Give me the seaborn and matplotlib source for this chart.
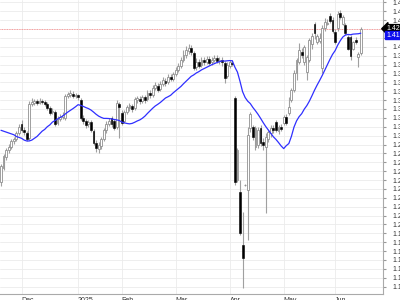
import numpy as np
import pandas as pd
import matplotlib
matplotlib.use("Agg")
import matplotlib.pyplot as plt
import matplotlib.transforms as mtransforms
import seaborn as sns

opens = [1.248,1.264,1.276,1.284,1.287,1.294,1.296,1.303,1.313,1.306,
 1.303,1.297,1.336,1.337,1.339,1.337,1.339,1.338,1.336,1.331,
 1.327,1.327,1.314,1.319,1.321,1.320,1.345,1.346,1.347,1.345,
 1.346,1.340,1.320,1.316,1.313,1.315,1.305,1.292,1.285,1.288,
 1.296,1.306,1.313,1.320,1.316,1.310,1.336,1.325,1.316,1.327,
 1.331,1.333,1.331,1.340,1.341,1.339,1.343,1.341,1.348,1.346,
 1.354,1.356,1.352,1.358,1.361,1.360,1.366,1.364,1.369,1.374,
 1.378,1.385,1.391,1.395,1.399,1.393,1.377,1.383,1.380,1.385,
 1.383,1.386,1.383,1.385,1.387,1.384,1.385,1.382,1.367,1.378,
 1.382,1.342,1.250,1.236,1.177,1.244,1.239,1.309,1.310,1.287,
 1.289,1.309,1.293,1.287,1.296,1.303,1.309,1.315,1.305,1.310,
 1.314,1.321,1.325,1.340,1.351,1.370,1.383,1.394,1.383,1.372,
 1.385,1.403,1.426,1.405,1.406,1.376,1.421,1.426,1.435,1.430,
 1.417,1.421,1.438,1.426,1.424,1.411,1.411,1.398,1.408,1.388,
 1.393]
closes = [1.266,1.277,1.284,1.287,1.294,1.296,1.303,1.310,1.306,1.304,
 1.296,1.336,1.338,1.339,1.337,1.339,1.338,1.336,1.331,1.325,
 1.328,1.313,1.319,1.321,1.323,1.345,1.347,1.348,1.345,1.346,
 1.343,1.320,1.316,1.312,1.315,1.306,1.292,1.286,1.289,1.296,
 1.306,1.313,1.316,1.313,1.309,1.337,1.332,1.314,1.327,1.332,
 1.334,1.330,1.341,1.342,1.339,1.343,1.340,1.348,1.346,1.354,
 1.357,1.351,1.358,1.363,1.359,1.366,1.364,1.369,1.374,1.378,
 1.385,1.391,1.396,1.399,1.394,1.376,1.383,1.378,1.385,1.383,
 1.386,1.382,1.385,1.387,1.384,1.385,1.383,1.365,1.380,1.383,
 1.381,1.248,1.284,1.190,1.162,1.244,1.301,1.324,1.298,1.309,
 1.306,1.292,1.289,1.298,1.304,1.309,1.306,1.306,1.310,1.307,
 1.321,1.314,1.332,1.351,1.370,1.385,1.396,1.391,1.400,1.389,
 1.408,1.412,1.415,1.412,1.410,1.421,1.428,1.427,1.429,1.418,
 1.405,1.437,1.433,1.434,1.415,1.398,1.390,1.405,1.405,1.392,
 1.420]
highs = [1.268,1.279,1.286,1.291,1.296,1.299,1.305,1.313,1.318,1.310,
 1.305,1.339,1.342,1.341,1.341,1.342,1.341,1.340,1.338,1.333,
 1.331,1.329,1.322,1.324,1.327,1.347,1.349,1.351,1.350,1.348,
 1.347,1.342,1.323,1.319,1.318,1.318,1.307,1.295,1.293,1.298,
 1.309,1.316,1.320,1.322,1.319,1.340,1.338,1.329,1.329,1.334,
 1.337,1.336,1.343,1.345,1.345,1.346,1.346,1.351,1.351,1.357,
 1.360,1.359,1.361,1.366,1.365,1.369,1.369,1.372,1.377,1.382,
 1.389,1.396,1.401,1.403,1.402,1.395,1.387,1.386,1.389,1.389,
 1.390,1.390,1.389,1.391,1.391,1.389,1.389,1.384,1.383,1.385,
 1.385,1.345,1.286,1.250,1.214,1.245,1.310,1.327,1.312,1.311,
 1.310,1.312,1.297,1.303,1.306,1.312,1.312,1.318,1.312,1.313,
 1.323,1.324,1.343,1.354,1.374,1.387,1.404,1.399,1.402,1.391,
 1.410,1.416,1.428,1.414,1.415,1.424,1.432,1.431,1.438,1.433,
 1.420,1.440,1.442,1.436,1.427,1.413,1.413,1.407,1.411,1.394,
 1.422]
lows = [1.243,1.261,1.273,1.280,1.285,1.291,1.294,1.301,1.304,1.301,
 1.294,1.295,1.333,1.334,1.334,1.336,1.336,1.333,1.329,1.323,
 1.324,1.311,1.312,1.316,1.319,1.318,1.342,1.343,1.342,1.342,
 1.340,1.318,1.313,1.309,1.310,1.304,1.289,1.282,1.280,1.285,
 1.294,1.303,1.311,1.310,1.306,1.307,1.297,1.312,1.314,1.324,
 1.328,1.327,1.329,1.337,1.336,1.337,1.337,1.339,1.342,1.343,
 1.351,1.349,1.350,1.356,1.356,1.358,1.361,1.361,1.367,1.372,
 1.376,1.383,1.387,1.392,1.391,1.374,1.374,1.376,1.377,1.380,
 1.381,1.380,1.380,1.383,1.382,1.381,1.378,1.359,1.365,1.376,
 1.378,1.244,1.248,1.188,1.128,1.243,1.182,1.304,1.295,1.284,
 1.286,1.288,1.284,1.213,1.293,1.299,1.303,1.304,1.302,1.305,
 1.312,1.312,1.323,1.338,1.349,1.363,1.381,1.387,1.380,1.363,
 1.383,1.398,1.409,1.403,1.404,1.370,1.418,1.424,1.427,1.416,
 1.403,1.418,1.431,1.424,1.413,1.396,1.385,1.396,1.403,1.377,
 1.391]
# moving average values before a full 20-day window is available
ma_head = [1.306,1.305,1.304,1.303,1.302,1.301,1.299,1.298,1.297,1.295,
           1.294,1.294,1.295,1.297,1.299,1.302,1.305,1.307,1.310]
ma_window = 20
month_labels = ["Dec", "2025", "Feb", "Mar", "Apr", "May", "Jun"]
month_starts = [8, 30, 47, 68, 89, 110, 130]
price_ticks = [round(1.13 + 0.01 * k, 2) for k in range(33)]
last_price = 1.420

df = pd.DataFrame({"open": opens, "close": closes, "high": highs, "low": lows})
df["i"] = np.arange(len(df))
ma = df["close"].rolling(ma_window).mean()
ma.iloc[:ma_window - 1] = ma_head
df["ma"] = ma
last_ma = float(df["ma"].iloc[-1])

sns.set_style("white")
plt.rcParams["font.family"] = ["Liberation Sans", "DejaVu Sans"]

fig = plt.figure(figsize=(4, 3), dpi=100)
ax = fig.add_axes([0.0, 0.02, 0.9575, 0.98])

up = df[df["close"] >= df["open"]]
dn = df[df["close"] < df["open"]]

ax.vlines(df["i"], df["low"], df["high"], color="#a0a0a0", lw=0.8, zorder=2)
ax.bar(up["i"], np.maximum(up["close"] - up["open"], 0.0006), bottom=up["open"],
       width=0.72, color="white", edgecolor="#909090", lw=0.6, zorder=3)
ax.bar(dn["i"], dn["close"] - dn["open"], bottom=dn["open"],
       width=0.72, color="black", edgecolor="black", lw=0.4, zorder=3)

sns.lineplot(data=df, x="i", y="ma", color="#2f2fff", lw=0.9, ax=ax, zorder=4)

ax.axhline(last_price, color="#ff8080", lw=0.6, ls=(0, (1, 1)), zorder=1)

ax.set_xlim(-0.39, 148.64)
ax.set_ylim(1.1217, 1.4527)
ax.yaxis.tick_right()
ax.set_yticks(price_ticks)
ax.set_yticklabels([f"{v:.2f}" for v in price_ticks])
ax.set_xticks(month_starts)
ax.set_xticklabels(month_labels, ha="left")
ax.tick_params(axis="y", labelsize=5, pad=5, length=2, color="#999999", labelcolor="#333333")
ax.tick_params(axis="x", labelsize=5, pad=0.5, length=2, color="#999999", labelcolor="#333333")
ax.set_xlabel("")
ax.set_ylabel("")
ax.grid(True, color="#ebebeb", lw=0.6)
ax.set_axisbelow(True)
for s in ["left", "top"]:
    ax.spines[s].set_visible(False)
for s in ["right", "bottom"]:
    ax.spines[s].set_color("#aaaaaa")
    ax.spines[s].set_linewidth(0.8)

trans = mtransforms.blended_transform_factory(ax.transAxes, ax.transData)
ax.text(1.008, last_price + 0.0003, f"{last_price:.3f}", transform=trans, color="white",
        fontsize=5, va="center", ha="left", clip_on=False, zorder=10,
        bbox=dict(boxstyle="larrow,pad=0.1", fc="black", ec="black"))
ax.text(1.008, last_ma - 0.0022, f"{last_ma:.3f}", transform=trans, color="white",
        fontsize=5, va="center", ha="left", clip_on=False, zorder=10,
        bbox=dict(boxstyle="square,pad=0.1", fc="#1010ee", ec="#1010ee"))

fig.savefig("out.png", dpi=100)
